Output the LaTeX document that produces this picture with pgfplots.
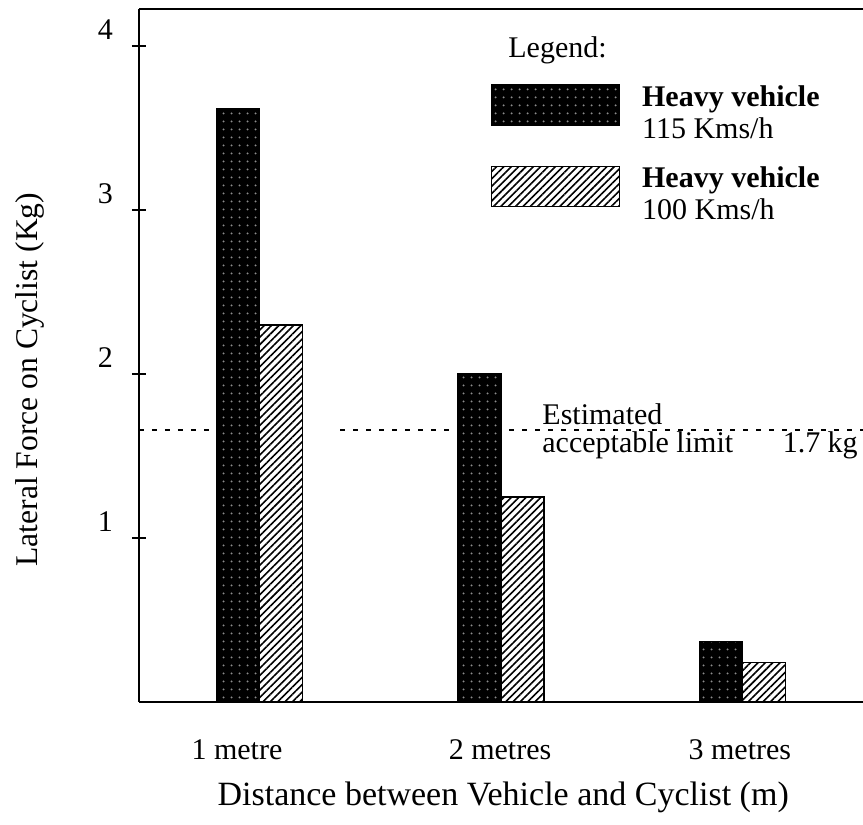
\documentclass[border=0pt]{standalone}
\usepackage{fontspec}
\setmainfont{Liberation Serif}
\usepackage{pgfplots}
\pgfplotsset{compat=1.18}
\usetikzlibrary{patterns.meta}
\pgfplotsset{swatch/.style={legend image code/.code={\draw[##1] (0pt,-10pt) rectangle (64pt,10pt);}}}
\begin{document}
\begin{tikzpicture}[font=\fontsize{15}{16}\selectfont]
\path[use as bounding box] (-69.5pt,-61.5pt) rectangle (362pt,351pt);
\begin{axis}[
  at={(0pt,0pt)}, anchor=south west,
  scale only axis, width=362pt, height=346.5pt,
  xmin=0.5, xmax=3.5, ymin=0, ymax=4.226,
  axis x line=box, axis y line=left,
  axis line style={-, line width=1.2pt},
  xtick={0.906,1.996,2.99}, xticklabels={1 metre,2 metres,3 metres},
  x tick style={draw=none},
  ytick={1,2,3,4},
  y tick style={line width=1.2pt, black},
  tick align=center, major tick length=7pt,
  xticklabel style={anchor=base, yshift=-25.5pt},
  yticklabel style={anchor=east, xshift=-6pt, yshift=8pt},
  /pgf/number format/assume math mode=true,
  xlabel={Distance between Vehicle and Cyclist (m)},
  xlabel style={at={(axis description cs:0.503,-0.137)}, anchor=center, font=\fontsize{17}{19}\selectfont},
  ylabel={Lateral Force on Cyclist (Kg)},
  ylabel style={at={(axis description cs:-0.1505,0.465)}, anchor=center, font=\fontsize{15.8}{18}\selectfont},
  legend style={at={(axis description cs:0.485,0.898)}, anchor=north west, draw=none, fill=none, inner sep=0pt, row sep=15.5pt, column sep=9pt},
  legend cell align=left,
]
\addplot[forget plot, black, line width=1pt, dash pattern=on 2.5pt off 4pt] coordinates {(0.5,1.66) (0.823,1.66)};
\addplot[forget plot, black, line width=1pt, dash pattern=on 2.5pt off 4pt] coordinates {(1.333,1.66) (3.5,1.66)};
\addplot[ybar, bar width=21.5pt, bar shift=-10.75pt, fill=black, draw=black, line width=0.8pt,
  postaction={pattern={Dots[distance=4pt,radius=0.6pt]}, pattern color=black!45}, swatch]
  coordinates {(1,3.62) (2,2.00) (3,0.37)};
\addlegendentry{\begin{tabular}{@{}l@{}}\textbf{Heavy vehicle}\\115 Kms/h\end{tabular}}
\addplot[ybar, bar width=21.5pt, bar shift=10.75pt, draw=black, line width=0.8pt,
  pattern={Lines[angle=45,distance=2.6pt,line width=0.8pt]}, pattern color=black, swatch]
  coordinates {(1,2.30) (2,1.25) (3,0.24)};
\addlegendentry{\begin{tabular}{@{}l@{}}\textbf{Heavy vehicle}\\100 Kms/h\end{tabular}}
\node[anchor=base west, inner sep=0pt] at (axis cs:2.029,3.93) {Legend:};
\node[anchor=base west, inner sep=0pt] at (axis cs:2.17,1.69) {Estimated};
\node[anchor=base west, inner sep=0pt] at (axis cs:2.17,1.52) {acceptable limit};
\node[anchor=base east, inner sep=0pt] at (axis cs:3.48,1.52) {1.7 kg};
\end{axis}
\end{tikzpicture}
\end{document}
